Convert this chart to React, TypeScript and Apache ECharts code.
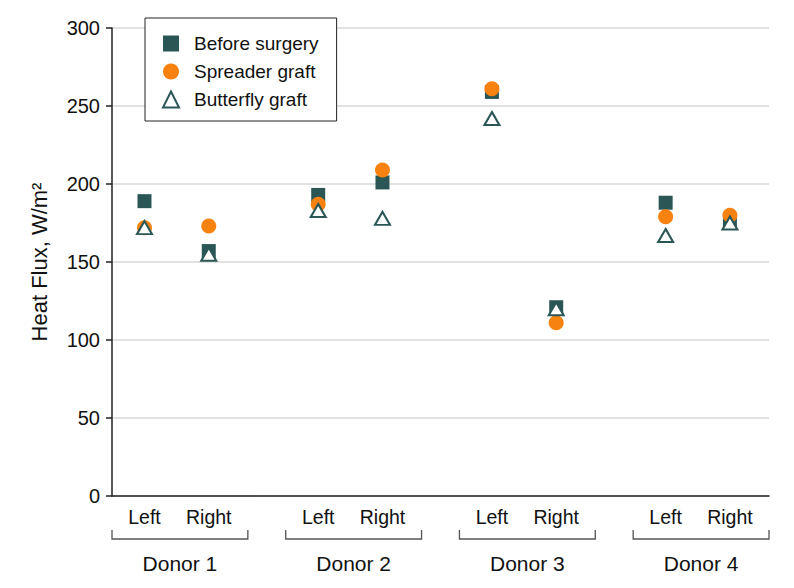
import React, { useEffect, useRef } from "react";
import * as echarts from "echarts";

const donors = ["Donor 1", "Donor 2", "Donor 3", "Donor 4"];
const sides = ["Left", "Right"];
const yTicks = [0, 50, 100, 150, 200, 250, 300];

// values ordered: D1 Left, D1 Right, D2 Left, D2 Right, D3 Left, D3 Right, D4 Left, D4 Right
const beforeSurgery = [189, 157, 193, 201, 259, 121, 188, 176];
const spreaderGraft = [172, 173, 187, 209, 261, 111, 179, 180];
const butterflyGraft = [172, 155, 183, 178, 242, 120, 167, 175];

const GROUP_WIDTH = 0.782;
const SIDE_OFFSETS = [0.187, 0.557];
const X_MAX = donors.length - (1 - GROUP_WIDTH);

const TEAL = "#2b5656";
const ORANGE = "#f7820f";
const TEXT = "#111";
const FONT = "'Liberation Sans', Arial, sans-serif";

function points(values: number[]) {
  const out: number[][] = [];
  donors.forEach((_, d) => {
    sides.forEach((_, s) => {
      out.push([d + SIDE_OFFSETS[s], values[d * sides.length + s]]);
    });
  });
  return out;
}

export default function App() {
  const ref = useRef<HTMLDivElement>(null);
  useEffect(() => {
    if (!ref.current) return;
    const chart = echarts.init(ref.current, undefined, { renderer: "svg" });
    chart.setOption({
      animation: false,
      backgroundColor: "#fff",
      textStyle: { fontFamily: FONT },
      grid: { left: 112, right: 25, top: 28, bottom: 92 },
      legend: {
        orient: "vertical",
        left: 145,
        top: 18,
        backgroundColor: "#fff",
        borderColor: "#222",
        borderWidth: 1,
        borderRadius: 0,
        padding: [16, 18, 12, 17],
        itemWidth: 16,
        itemHeight: 16,
        itemGap: 9,
        textStyle: {
          fontSize: 19,
          color: TEXT,
          fontFamily: FONT,
          lineHeight: 18,
          padding: [0, 0, 0, 10],
        },
        data: ["Before surgery", "Spreader graft", "Butterfly graft"],
        z: 10,
      },
      xAxis: {
        type: "value",
        min: 0,
        max: X_MAX,
        axisLine: { show: true, onZero: false, lineStyle: { color: "#222", width: 1.5 } },
        axisTick: { show: false },
        axisLabel: { show: false },
        splitLine: { show: false },
      },
      yAxis: {
        type: "value",
        min: yTicks[0],
        max: yTicks[yTicks.length - 1],
        interval: yTicks[1] - yTicks[0],
        name: "Heat Flux, W/m²",
        nameLocation: "middle",
        nameGap: 62,
        nameTextStyle: { fontSize: 22, color: TEXT, fontFamily: FONT },
        axisLine: { show: true, lineStyle: { color: "#222", width: 1.5 } },
        axisTick: { show: true, length: 6, lineStyle: { color: "#222", width: 1.5 } },
        axisLabel: { fontSize: 20, color: TEXT, margin: 12, fontFamily: FONT },
        splitLine: { show: true, lineStyle: { color: "#d8d8d8", width: 1.5 } },
      },
      series: [
        {
          name: "Before surgery",
          type: "scatter",
          symbol: "rect",
          symbolSize: 14,
          itemStyle: { color: TEAL, opacity: 1 },
          data: points(beforeSurgery),
          z: 2,
        },
        {
          name: "Spreader graft",
          type: "scatter",
          symbol: "circle",
          symbolSize: 15,
          itemStyle: { color: ORANGE, opacity: 1 },
          data: points(spreaderGraft),
          z: 3,
        },
        {
          name: "Butterfly graft",
          type: "scatter",
          symbol: "triangle",
          symbolSize: [15, 13],
          itemStyle: { color: "#fff", borderColor: TEAL, borderWidth: 2, opacity: 1 },
          data: points(butterflyGraft),
          z: 4,
        },
      ],
    });

    const graphics: any[] = [];
    const yPix = (v: number) => chart.convertToPixel({ gridIndex: 0 }, [0, v])[1];
    const xPix = (v: number) => chart.convertToPixel({ gridIndex: 0 }, [v, 0])[0];
    const base = yPix(0);
    donors.forEach((name, d) => {
      sides.forEach((side, s) => {
        graphics.push({
          type: "text",
          x: xPix(d + SIDE_OFFSETS[s]),
          y: base + 21,
          style: {
            text: side,
            fontSize: 19.5,
            fontFamily: FONT,
            fill: TEXT,
            align: "center",
            verticalAlign: "middle",
          },
        });
      });
      const x0 = xPix(d);
      const x1 = xPix(d + GROUP_WIDTH);
      const by = base + 43;
      graphics.push({
        type: "polyline",
        shape: { points: [[x0, by - 9], [x0, by], [x1, by], [x1, by - 9]] },
        style: { stroke: "#555", lineWidth: 1.3, fill: null },
      });
      graphics.push({
        type: "text",
        x: (x0 + x1) / 2,
        y: base + 67,
        style: {
          text: name,
          fontSize: 21,
          fontFamily: FONT,
          fill: TEXT,
          align: "center",
          verticalAlign: "middle",
        },
      });
    });
    chart.setOption({ graphic: graphics });

    return () => chart.dispose();
  }, []);
  return <div ref={ref} style={{ width: 794, height: 588, position: "absolute", left: 0, top: 0 }} />;
}
